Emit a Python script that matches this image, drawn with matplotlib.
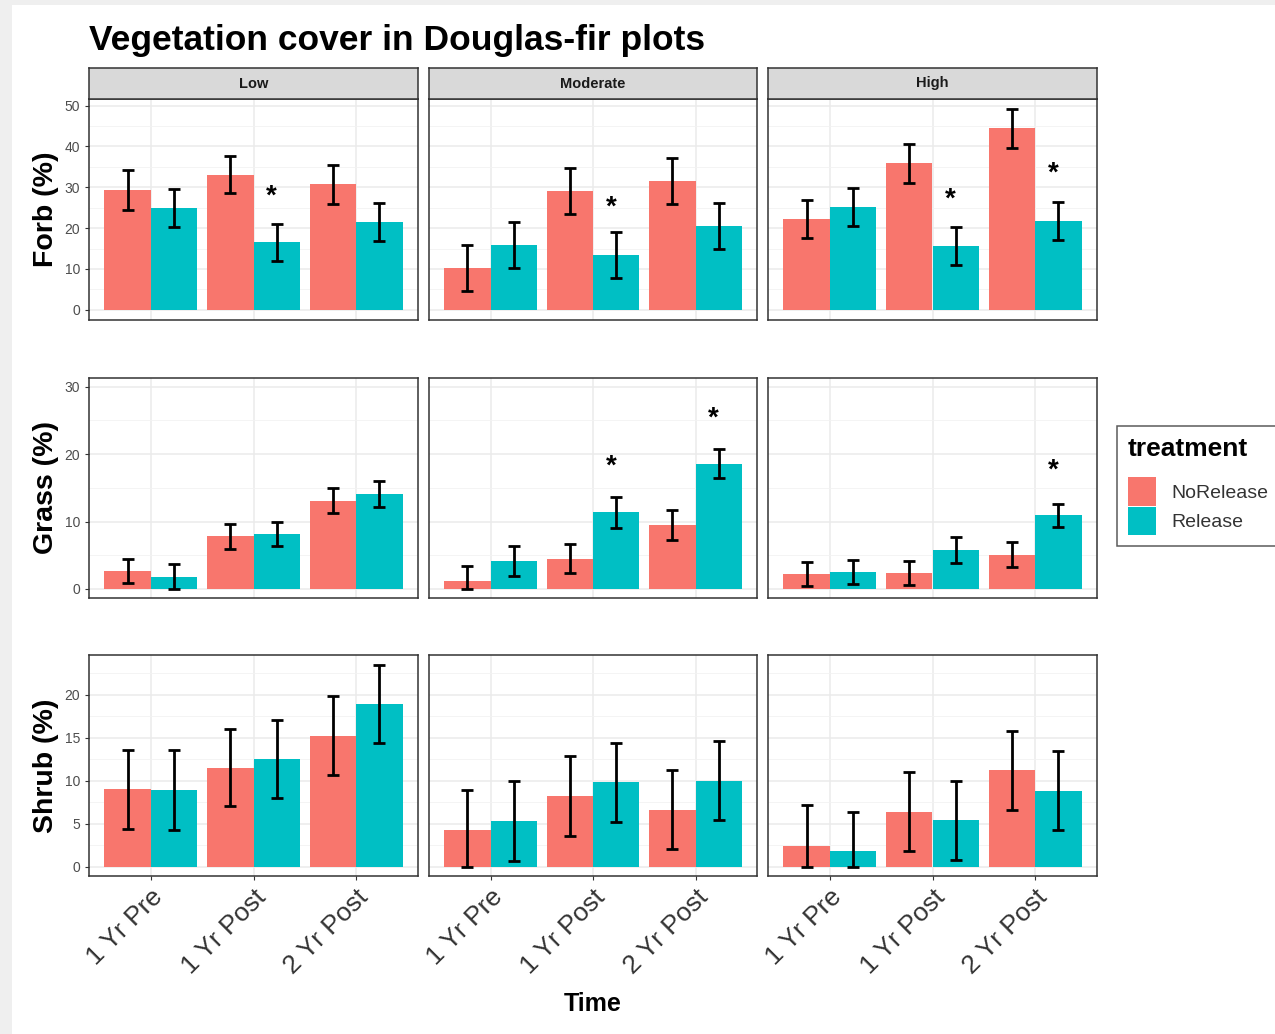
import numpy as np
import matplotlib
matplotlib.use("Agg")
import matplotlib.pyplot as plt
from matplotlib.patches import Patch, Rectangle
from matplotlib.ticker import MultipleLocator

plt.rcParams['font.family'] = ['Liberation Sans', 'DejaVu Sans']

times = ["1 Yr Pre", "1 Yr Post", "2 Yr Post"]
sites = ["Low", "Moderate", "High"]
variables = ["Forb (%)", "Grass (%)", "Shrub (%)"]
treatments = ["NoRelease", "Release"]
colors = ["#F8766D", "#00BFC4"]

# means [site][time]
forb_nr = [[29.3, 33.1, 30.7], [10.2, 29.1, 31.6], [22.2, 35.9, 44.4]]
forb_r = [[24.9, 16.5, 21.5], [15.9, 13.4, 20.6], [25.1, 15.6, 21.8]]
forb_nr_se = [[4.8, 4.6, 4.7], [5.6, 5.6, 5.6], [4.6, 4.8, 4.7]]
forb_r_se = [[4.6, 4.5, 4.7], [5.7, 5.6, 5.6], [4.6, 4.7, 4.7]]

grass_nr = [[2.7, 7.8, 13.1], [1.2, 4.5, 9.5], [2.2, 2.4, 5.1]]
grass_r = [[1.7, 8.2, 14.1], [4.1, 11.4, 18.6], [2.5, 5.8, 10.9]]
grass_nr_se = [[1.8, 1.9, 1.9], [2.2, 2.2, 2.2], [1.8, 1.8, 1.9]]
grass_r_se = [[2.0, 1.8, 1.9], [2.2, 2.3, 2.1], [1.8, 1.9, 1.7]]

shrub_nr = [[9.0, 11.5, 15.2], [4.2, 8.2, 6.6], [2.4, 6.4, 11.2]]
shrub_r = [[8.9, 12.5, 18.9], [5.3, 9.8, 10.0], [1.8, 5.4, 8.8]]
shrub_nr_se = [[4.6, 4.5, 4.6], [4.7, 4.6, 4.6], [4.7, 4.6, 4.6]]
shrub_r_se = [[4.7, 4.5, 4.5], [4.6, 4.6, 4.6], [4.6, 4.6, 4.6]]

# significance stars: (site, time, y)
forb_stars = [(0, 1, 27.7), (1, 1, 24.9), (2, 1, 26.9), (2, 2, 33.4)]
grass_stars = [(1, 1, 18.2), (1, 2, 25.2), (2, 2, 17.5)]
shrub_stars = []

ylims = [(-2.5, 51.6), (-1.35, 31.3), (-1.1, 24.6)]
ymajor = [10, 10, 5]

rows = [
    (forb_nr, forb_r, forb_nr_se, forb_r_se, forb_stars),
    (grass_nr, grass_r, grass_nr_se, grass_r_se, grass_stars),
    (shrub_nr, shrub_r, shrub_nr_se, shrub_r_se, shrub_stars),
]

W, H = 1275, 1034
fig = plt.figure(figsize=(W / 100, H / 100), dpi=100, facecolor="#efefef")
fig.patches.append(Rectangle((12 / W, 0), 1, 1 - 5 / H, transform=fig.transFigure,
                             facecolor="white", edgecolor="none", zorder=-10))

cols_px = [(89, 418), (429, 757), (768, 1097)]
rows_px = [(99, 320), (378, 598), (655, 876)]

x = np.arange(1, 4)
bw = 0.45
for r, (nr, rl, nrse, rse, stars) in enumerate(rows):
    for c in range(3):
        x0, x1 = cols_px[c]
        y0, y1 = rows_px[r]
        ax = fig.add_axes([x0 / W, 1 - y1 / H, (x1 - x0) / W, (y1 - y0) / H])
        ax.set_xlim(0.4, 3.6)
        ax.set_ylim(*ylims[r])
        ax.yaxis.set_major_locator(MultipleLocator(ymajor[r]))
        ax.yaxis.set_minor_locator(MultipleLocator(ymajor[r] / 2))
        ax.set_xticks(x)
        ax.grid(True, which="major", color="#ebebeb", lw=1.1, zorder=0)
        ax.grid(True, which="minor", axis="y", color="#f2f2f2", lw=0.6, zorder=0)
        ax.set_axisbelow(True)
        for sp in ax.spines.values():
            sp.set_color("#333333")
            sp.set_linewidth(1.1)

        means = [nr[c], rl[c]]
        ses = [nrse[c], rse[c]]
        for k in range(2):
            m = np.array(means[k])
            s = np.array(ses[k])
            xs = x + (k - 0.5) * bw
            ax.bar(xs, m, width=bw, color=colors[k], zorder=2)
            lo = np.minimum(s, m)
            ax.errorbar(xs, m, yerr=[lo, s], fmt="none", ecolor="black",
                        elinewidth=2, capsize=4, capthick=2, zorder=3)
        for (si, ti, sy) in stars:
            if si == c:
                ax.text(x[ti] + 0.5 * bw - 0.05, sy, "*", ha="center", va="center",
                        fontsize=20, fontweight="bold", zorder=4)

        ax.tick_params(axis="both", colors="#333333", length=3, width=0.8,
                       labelcolor="#4d4d4d", labelsize=10)
        ax.tick_params(which="minor", length=0)
        if c == 0:
            ax.set_ylabel(variables[r], fontsize=20.5, fontweight="bold", labelpad=4)
        else:
            ax.tick_params(axis="y", left=False, labelleft=False)
        if r == 2:
            ax.set_xticklabels(times, rotation=45, ha="right", rotation_mode="anchor",
                               fontsize=19, color="#333333")
        else:
            ax.tick_params(axis="x", bottom=False, labelbottom=False)

        if r == 0:
            sax = fig.add_axes([x0 / W, 1 - 99 / H, (x1 - x0) / W, 31 / H])
            sax.set_xticks([])
            sax.set_yticks([])
            sax.set_facecolor("#d9d9d9")
            for sp in sax.spines.values():
                sp.set_color("#333333")
                sp.set_linewidth(1.1)
            sax.text(0.5, 0.5, sites[c], ha="center", va="center", fontsize=10.5,
                     fontweight="bold", color="#1a1a1a", transform=sax.transAxes)

fig.text(89 / W, 1 - 41 / H, "Vegetation cover in Douglas-fir plots", fontsize=25.5,
         fontweight="bold", va="center", ha="left")
fig.text(593 / W, 1 - 1004 / H, "Time", fontsize=18, fontweight="bold",
         ha="center", va="center")

handles = [Patch(facecolor=colors[k], edgecolor="none") for k in range(2)]
leg = fig.legend(handles, treatments, loc="upper left",
                 bbox_to_anchor=(1117 / W, 1 - 426 / H), borderaxespad=0,
                 fontsize=14,
                 title="treatment", title_fontproperties={"weight": "bold", "size": 19},
                 frameon=True, fancybox=False, edgecolor="#333333",
                 handlelength=1.45, handleheight=1.9, labelspacing=0.02,
                 handletextpad=0.8, borderpad=0.55, alignment="left")
leg._legend_box.sep = 12
leg.get_frame().set_linewidth(1.1)
for t in leg.get_texts():
    t.set_color("#333333")

fig.savefig("out.png", dpi=100)
